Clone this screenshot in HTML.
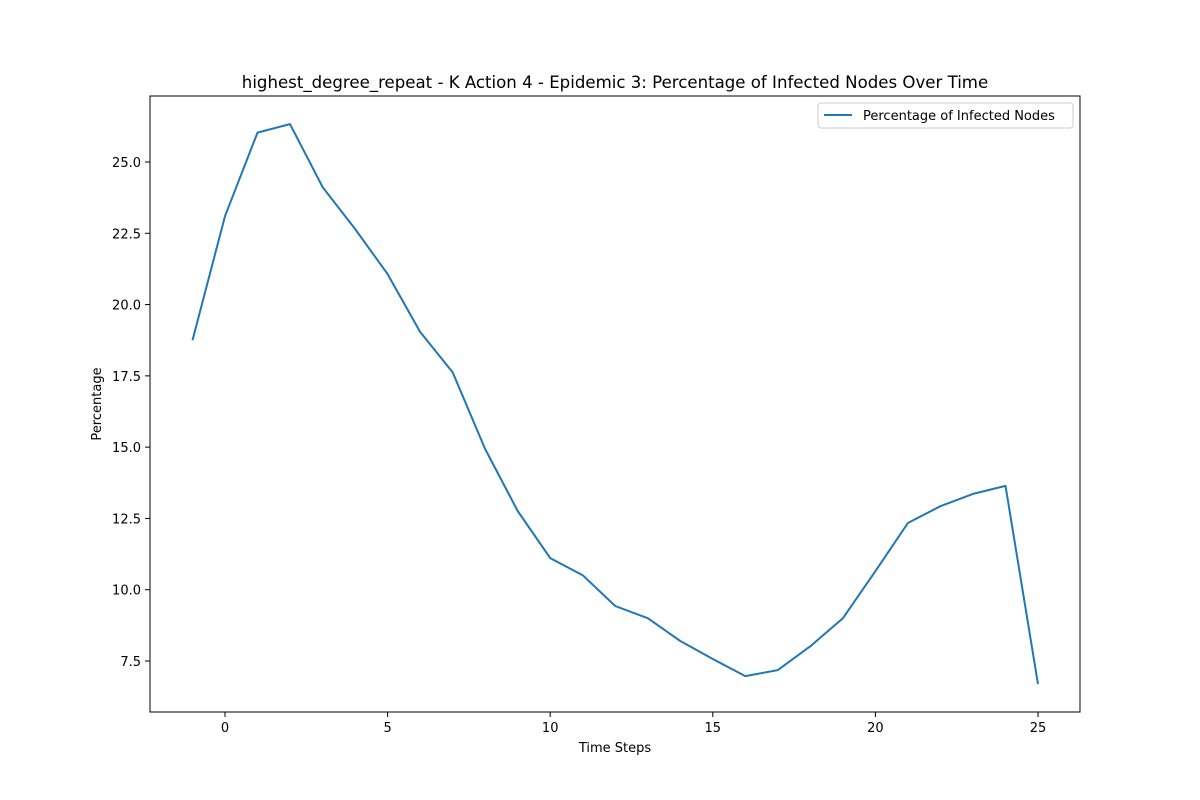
<!DOCTYPE html>
<html><head><meta charset="utf-8"><style>
body{margin:0;background:#fff;}
svg{display:block;font-family:"DejaVu Sans","Liberation Sans",sans-serif;}
</style></head><body>
<svg id="chart" width="1200" height="800" xmlns="http://www.w3.org/2000/svg">
<rect width="1200" height="800" fill="#fff"/>
<text x="615" y="88" font-size="16.6" text-anchor="middle">highest_degree_repeat - K Action 4 - Epidemic 3: Percentage of Infected Nodes Over Time</text>
<g id="xt"></g>
<g id="yt"></g>
<path id="line" fill="none" stroke="#1f77b4" stroke-width="2" stroke-linejoin="round"/>
<rect x="150" y="96" width="930" height="616" fill="none" stroke="#000" stroke-width="1"/>
<text x="615" y="752" font-size="13" text-anchor="middle">Time Steps</text>
<text x="0" y="0" font-size="13" text-anchor="middle" transform="translate(101,404) rotate(-90)">Percentage</text>
<g>
<rect x="818" y="103" width="255" height="25" rx="3" fill="#fff" stroke="#ccc"/>
<line x1="824" y1="115" x2="852" y2="115" stroke="#1f77b4" stroke-width="2"/>
<text x="863" y="120" font-size="13">Percentage of Infected Nodes</text>
</g>
</svg>
<script>
const steps=[-1,0,1,2,3,4,5,6,7,8,9,10,11,12,13,14,15,16,17,18,19,20,21,22,23,24,25];
const values=[18.75,23.1,26.03,26.33,24.12,22.65,21.07,19.04,17.63,14.93,12.76,11.11,10.51,9.43,9.0,8.2,7.57,6.97,7.18,8.02,9.0,10.65,12.34,12.93,13.36,13.64,6.69];
const xTicks=[0,5,10,15,20,25];
const yTicks=[7.5,10.0,12.5,15.0,17.5,20.0,22.5,25.0];
const xs=v=>225+(v-0)*(1038-225)/25;
const ys=v=>162+(25-v)*(661-162)/17.5;
const NS="http://www.w3.org/2000/svg";
const xt=document.getElementById('xt'),yt=document.getElementById('yt');
xTicks.forEach(t=>{
 const l=document.createElementNS(NS,'line');
 l.setAttribute('x1',xs(t));l.setAttribute('x2',xs(t));l.setAttribute('y1',712);l.setAttribute('y2',717);l.setAttribute('stroke','#000');
 
 
 xt.appendChild(l);
 const tx=document.createElementNS(NS,'text');
 tx.setAttribute('x',xs(t));tx.setAttribute('y',732);tx.setAttribute('font-size','13');tx.setAttribute('text-anchor','middle');
 tx.textContent=t;
 
 
 xt.appendChild(tx);
});
yTicks.forEach(t=>{
 const l=document.createElementNS(NS,'line');
 l.setAttribute('x1',145);l.setAttribute('x2',150);l.setAttribute('y1',ys(t));l.setAttribute('y2',ys(t));l.setAttribute('stroke','#000');
 
 
 yt.appendChild(l);
 const tx=document.createElementNS(NS,'text');
 tx.setAttribute('x',141);tx.setAttribute('y',ys(t)+5);tx.setAttribute('font-size','13');tx.setAttribute('text-anchor','end');
 tx.textContent=t.toFixed(1);
 
 
 yt.appendChild(tx);
});
document.getElementById('line').setAttribute('d',steps.map((s,i)=>(i?'L':'M')+xs(s).toFixed(1)+','+ys(values[i]).toFixed(1)).join(''));
</script>
</body></html>
